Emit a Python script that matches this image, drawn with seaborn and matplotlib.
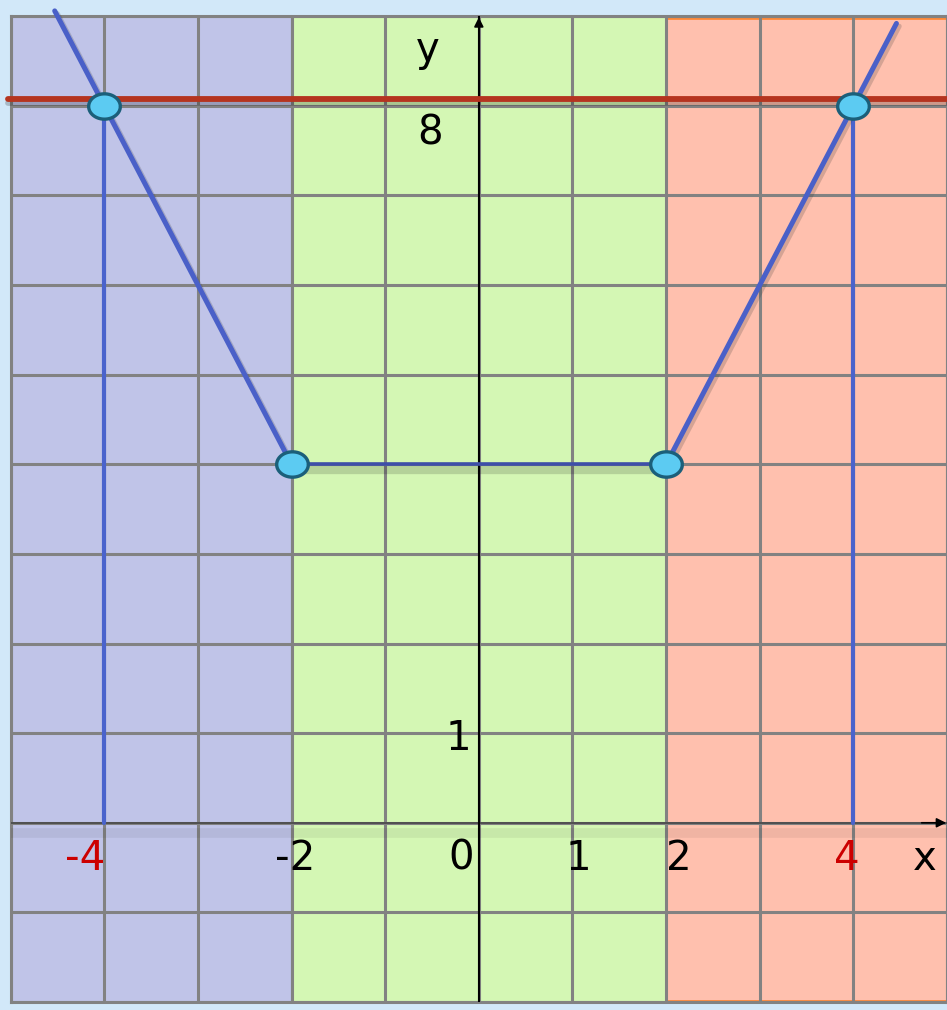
import numpy as np
import pandas as pd
import matplotlib.pyplot as plt
import matplotlib.patheffects as pe
import seaborn as sns

# Data
region_edges = [-5, -2, 2, 5]
region_colors = ['#c0c4e8', '#d4f7b4', '#ffc0ae']

# piecewise graph y = |x+2| + |x-2|
left_x = [-4.53, -4, -2]
left_y = [9.06, 8, 4]
mid_x = [-2, 2]
mid_y = [4, 4]
right_x = [2, 4, 4.46]
right_y = [4, 8, 8.92]

# marked points
pts_x = [-4, -2, 2, 4]
pts_y = [8, 4, 4, 8]

# vertical drops at x = -4 and x = 4
drop_x = [-4, 4]
drop_top = 8

level_y = 8.08  # the red line y = 8

xtick_labels = [(-4.2, '-4', '#cc0000'), (-1.96, '-2', 'black'), (-0.19, '0', 'black'),
                (1.06, '1', 'black'), (2.14, '2', 'black'), (3.93, '4', '#cc0000')]

sns.set_style('white')
plt.rcParams['font.family'] = ['DejaVu Sans']
plt.rcParams['text.color'] = 'black'

fig = plt.figure(figsize=(9.47, 10.10), dpi=100, facecolor='#d2e8f9')
ax = fig.add_axes([0.0113, 0.0079, 0.9887, 0.976])
ax.set_xlim(-5, 5)
ax.set_ylim(-2, 9)

# coloured bands
for i, c in enumerate(region_colors):
    ax.axvspan(region_edges[i], region_edges[i + 1], color=c, zorder=0, lw=0)
ax.plot([2, 5], [8.98, 8.98], color='#ff8a3a', lw=2, zorder=1, clip_on=False)
ax.plot([2, 5], [-1.99, -1.99], color='#ff8a3a', lw=2, zorder=1, clip_on=False)
ax.axvline(-2, color='#5a70d8', lw=1.5, zorder=1)

# grid
ax.set_xticks(np.arange(-5, 6))
ax.set_yticks(np.arange(-2, 10))
ax.grid(True, color='#828282', lw=2.2, zorder=2)
ax.set_axisbelow(False)
ax.tick_params(length=0, labelbottom=False, labelleft=False)
for s in ax.spines.values():
    s.set_color('#828282')
    s.set_linewidth(2.2)
for line in ax.get_xgridlines() + ax.get_ygridlines():
    line.set_zorder(2)

shadow = [pe.SimpleLineShadow(offset=(2, -2), alpha=0.2, shadow_color='#303030'), pe.Normal()]

# axes
ax.axhline(0, color='#505050', lw=1.4, zorder=3,
           path_effects=[pe.SimpleLineShadow(offset=(0, -7), alpha=0.06, linewidth=7), pe.Normal()])
ax.axvline(0, color='black', lw=1.5, zorder=3)
ax.annotate('', xy=(0, 9.02), xytext=(0, 8.7),
            arrowprops=dict(arrowstyle='-|>', color='black', lw=1.2, mutation_scale=14),
            annotation_clip=False, zorder=4)
ax.annotate('', xy=(5.02, 0.0), xytext=(4.7, 0.0),
            arrowprops=dict(arrowstyle='-|>', color='black', lw=1.2, mutation_scale=14),
            annotation_clip=False, zorder=4)

# red level line
ax.axhline(level_y, xmin=-0.003, color='#b5341f', lw=4.2, zorder=4, clip_on=False,
           path_effects=[pe.SimpleLineShadow(offset=(0, -3), alpha=0.2), pe.Normal()])

# vertical drops
for x in drop_x:
    sns.lineplot(x=[x, x], y=[0, drop_top], color='#4a63cc', lw=3.0, ax=ax, zorder=5,
                 estimator=None, sort=False)

# graph
blue = '#4a60c8'
for gx, gy, w in [(left_x, left_y, 3.6), (right_x, right_y, 3.6)]:
    sns.lineplot(x=gx, y=gy, color=blue, lw=w, ax=ax, zorder=6, sort=False, estimator=None,
                 path_effects=shadow, clip_on=False)
sns.lineplot(x=mid_x, y=mid_y, color='#3d4fa8', lw=2.6, ax=ax, zorder=6, estimator=None,
             path_effects=[pe.SimpleLineShadow(offset=(1, -4), alpha=0.15, linewidth=6), pe.Normal()])

# points as ellipses
t = np.linspace(0, 2 * np.pi, 60)
ell = list(zip(1.25 * np.cos(t), np.sin(t)))
sns.scatterplot(x=pts_x, y=pts_y, marker=ell, s=520, color='#5ccbf2',
                edgecolor='#1b5f7a', linewidth=2.4, ax=ax, zorder=8, clip_on=False)

# labels
fs = 29
for x, txt, c in xtick_labels:
    ax.text(x, -0.40, txt, color=c, fontsize=fs, ha='center', va='center', zorder=9)
ax.text(4.76, -0.40, 'x', color='black', fontsize=fs, ha='center', va='center', zorder=9)
ax.text(-0.22, 0.93, '1', color='black', fontsize=fs, ha='center', va='center', zorder=9)
ax.text(-0.52, 7.69, '8', color='black', fontsize=fs, ha='center', va='center', zorder=9)
ax.text(-0.54, 8.62, 'y', color='black', fontsize=fs, ha='center', va='center', zorder=9)

fig.savefig('out.png', dpi=100, facecolor=fig.get_facecolor())
